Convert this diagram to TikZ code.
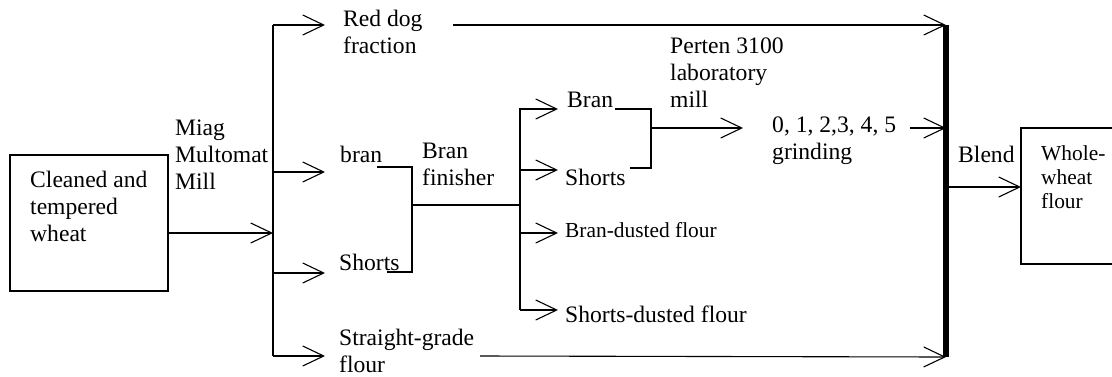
\documentclass[tikz,border=0pt]{standalone}
\usepackage{fontspec}
\setmainfont{Liberation Serif}
\usetikzlibrary{arrows.meta}
\tikzset{
  flow/.style={line width=1.1pt, -{Straight Barb[length=21pt,width=20pt,line width=1.1pt]}},
  wire/.style={line width=1.1pt},
  lbl/.style={anchor=base west, inner sep=0pt, align=left,
              font=\fontsize{23.6}{27}\selectfont},
  small/.style={anchor=base west, inner sep=0pt, align=left,
              font=\fontsize{21.4}{24}\selectfont},
  boxed/.style={draw, line width=1.3pt}
}
\begin{document}
\begin{tikzpicture}[x=1pt,y=-1pt]
\useasboundingbox (0,0) rectangle (1112,376);
\clip (0,0) rectangle (1112,376);

% input and output boxes
\draw[boxed] (10,155) rectangle (168,291);
\draw[boxed] (1021,128) rectangle (1125,264);

% labels (multi-line labels are placed by the baseline of their last line)
\node[lbl] (wheat) at (30,241) {Cleaned and\\tempered\\wheat};
\node[lbl] (miag) at (175,189) {Miag\\Multomat\\Mill};
\node[lbl] (reddog) at (343,53) {Red dog\\fraction};
\node[lbl] (bran1) at (340,162) {bran};
\node[lbl] (shorts1) at (339,270) {Shorts};
\node[lbl] (straight) at (339,372) {Straight-grade\\flour};
\node[lbl] (finisher) at (422,185) {Bran\\finisher};
\node[lbl] (bran2) at (567,107) {Bran};
\node[lbl] (shorts2) at (565,185) {Shorts};
\node[small] (brandust) at (565,237) {Bran-dusted flour};
\node[lbl] (shortsdust) at (565,322) {Shorts-dusted flour};
\node[lbl] (perten) at (670,107) {Perten 3100\\laboratory\\mill};
\node[lbl] (grind) at (772,159) {0, 1, 2,3, 4, 5\\grinding};
\node[lbl] (blend) at (958,162) {Blend};
\node[small] (whole) at (1041,208) {Whole-\\wheat\\flour};

% junction points
\coordinate (wheatR) at (168,233);
\coordinate (millT) at (273,25);
\coordinate (millM) at (273,233);
\coordinate (millB) at (273,356);
\coordinate (mill1) at (273,172);
\coordinate (mill2) at (273,273);
\coordinate (tipRed) at (325,25);
\coordinate (tipBran) at (325,172);
\coordinate (tipShorts) at (325,273);
\coordinate (tipStr) at (325,356);
\coordinate (redEnd) at (453,25);
\coordinate (strEnd) at (480,356);
\coordinate (barT) at (946,25);
\coordinate (barB) at (946,357);
\coordinate (barM) at (946,187);
\coordinate (barG) at (946,128);
\coordinate (boxL) at (1021,187);

% bran finisher bracket
\coordinate (bA) at (377,167);
\coordinate (bB) at (412,167);
\coordinate (bC) at (412,272);
\coordinate (bD) at (387,272);
\coordinate (bF) at (412,205);
\coordinate (finT) at (520,108);
\coordinate (finB) at (520,310);
\coordinate (finF) at (520,205);
\coordinate (fin1) at (520,109);
\coordinate (fin2) at (520,170);
\coordinate (fin3) at (520,233);
\coordinate (fin4) at (520,310);
\coordinate (tip1) at (558,109);
\coordinate (tip2) at (558,170);
\coordinate (tip3) at (558,233);
\coordinate (tip4) at (558,310);

% laboratory mill bracket
\coordinate (lA) at (615,109);
\coordinate (lB) at (651,109);
\coordinate (lC) at (651,168);
\coordinate (lD) at (630,168);
\coordinate (lM) at (651,128);
\coordinate (lTip) at (743,128);
\coordinate (gOut) at (910,128);

% mill
\draw[flow] (wheatR) -- (millM);
\draw[wire] (millT) -- (millB);
\draw[flow] (millT) -- (tipRed);
\draw[flow] (mill1) -- (tipBran);
\draw[flow] (mill2) -- (tipShorts);
\draw[flow] (millB) -- (tipStr);

% direct streams to the blend
\draw[flow] (redEnd) -- (barT);
\draw[flow] (strEnd) -- (barB);

% bran finisher
\draw[wire] (bA) -- (bB) -- (bC) -- (bD);
\draw[wire] (bF) -- (finF);
\draw[wire] (finT) -- (finB);
\draw[flow] (fin1) -- (tip1);
\draw[flow] (fin2) -- (tip2);
\draw[flow] (fin3) -- (tip3);
\draw[flow] (fin4) -- (tip4);

% laboratory mill
\draw[wire] (lA) -- (lB) -- (lC) -- (lD);
\draw[flow] (lM) -- (lTip);
\draw[flow] (gOut) -- (barG);

% blend bar and product
\draw[line width=6pt] (barT) -- (barB);
\draw[flow] (barM) -- (boxL);
\end{tikzpicture}
\end{document}
